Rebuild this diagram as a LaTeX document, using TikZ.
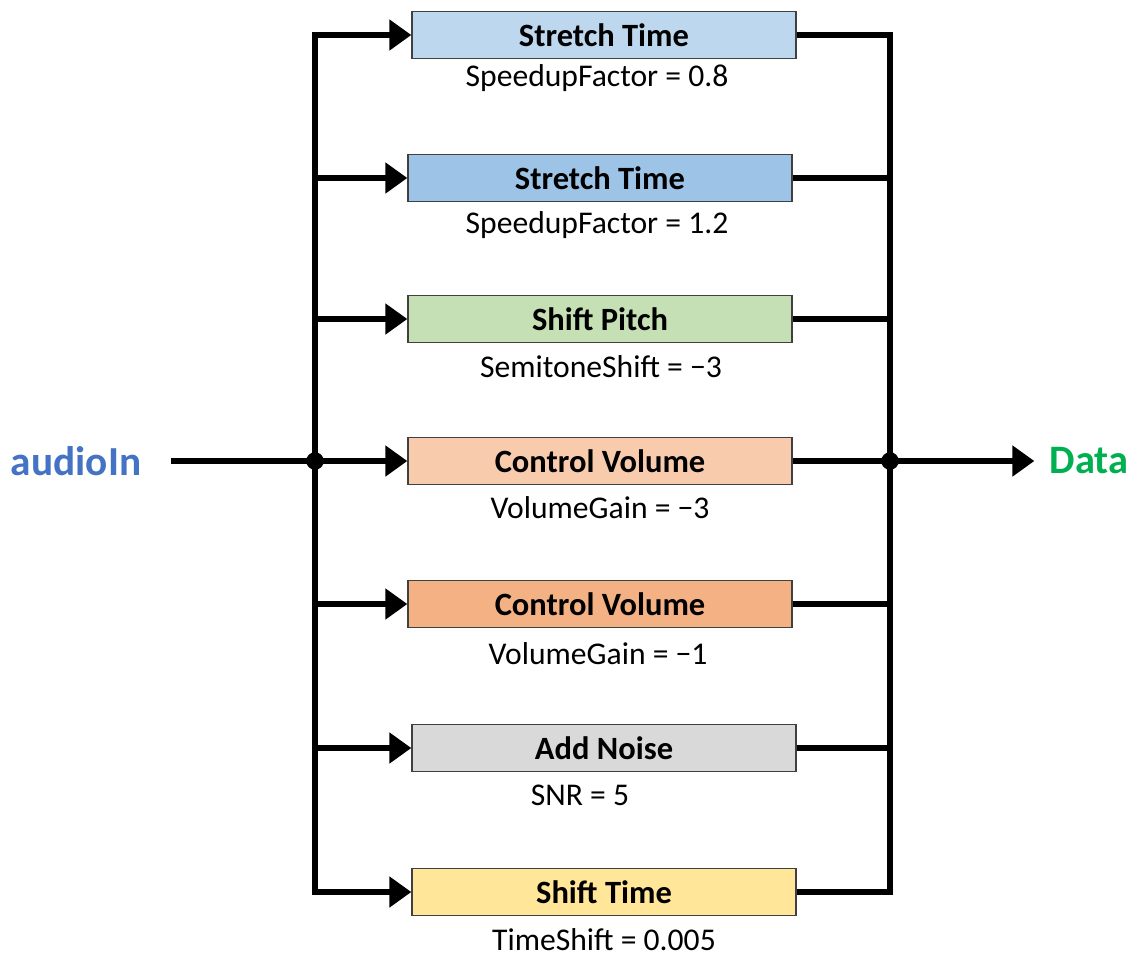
\documentclass[tikz,border=0pt]{standalone}
\usepackage{fontspec}
\setmainfont{Carlito}
\usetikzlibrary{positioning,arrows.meta}
\definecolor{stretchA}{HTML}{BDD7EE}
\definecolor{stretchB}{HTML}{9DC3E6}
\definecolor{pitchC}{HTML}{C5E0B4}
\definecolor{volumeA}{HTML}{F8CBAD}
\definecolor{volumeB}{HTML}{F4B183}
\definecolor{noiseC}{HTML}{D9D9D9}
\definecolor{shiftC}{HTML}{FFE699}
\definecolor{inBlue}{HTML}{4472C4}
\definecolor{outGreen}{HTML}{00B050}

\begin{document}
\begin{tikzpicture}[x=0.02cm, y=-0.02cm,
    box/.style={draw=black!75, line width=0.8pt, minimum width=7.68cm,
      minimum height=0.94cm, inner sep=0pt,
      font=\fontsize{18.5}{20}\selectfont\bfseries},
    param/.style={inner sep=0pt, font=\fontsize{18}{20}\selectfont},
    wire/.style={line width=3pt},
    flow/.style={wire, -{Triangle[length=12.5pt,width=17pt]}}]
  \useasboundingbox (0,0) rectangle (1135,958);
  % processing blocks
  \node[box, fill=stretchA] (st1) at (604,35)  {Stretch Time};
  \node[box, fill=stretchB] (st2) at (600,178) {Stretch Time};
  \node[box, fill=pitchC]   (sp)  at (600,319) {Shift Pitch};
  \node[box, fill=volumeA]  (cv1) at (600,461) {Control Volume};
  \node[box, fill=volumeB]  (cv2) at (600,604) {Control Volume};
  \node[box, fill=noiseC]   (an)  at (604,748) {Add Noise};
  \node[box, fill=shiftC]   (sh)  at (604,892) {Shift Time};
  % parameters
  \node[param] (p1) at (597,78)  {SpeedupFactor = 0.8};
  \node[param] (p2) at (597,225) {SpeedupFactor = 1.2};
  \node[param] (p3) at (601,367) {SemitoneShift = \textminus3};
  \node[param] (p4) at (600,508) {VolumeGain = \textminus3};
  \node[param] (p5) at (598,654) {VolumeGain = \textminus1};
  \node[param] (p6) at (580,795) {SNR = 5};
  \node[param] (p7) at (604,940) {TimeShift = 0.005};
  % input and output
  \node[inner xsep=0.6cm, inner ysep=0pt, text=inBlue,
    font=\fontsize{23.5}{25}\selectfont\bfseries] (ain) at (76,461) {audioIn};
  \node[inner xsep=0.3cm, inner ysep=0pt, text=outGreen,
    font=\fontsize{23}{25}\selectfont\bfseries] (data) at (1089,461) {Data};
  % bus lines
  \coordinate (lt) at (315,35);
  \coordinate (lb) at (315,892);
  \coordinate (rt) at (890,35);
  \coordinate (rb) at (890,892);
  \coordinate (lsplit) at (315,461);
  \coordinate (rsplit) at (890,461);
  \draw[wire, line cap=rect] (lt) -- (lb);
  \draw[wire, line cap=rect] (rt) -- (rb);
  \foreach \n in {st1,st2,sp,cv1,cv2,an,sh} {
    \draw[flow] (lt |- \n.west) -- (\n.west);
    \draw[wire] (\n.east) -- (rt |- \n.east);
  }
  \draw[wire] (ain) -- (lsplit);
  \draw[flow] (rsplit) -- (data);
  \fill (lsplit) circle[radius=5pt];
  \fill (rsplit) circle[radius=5pt];
\end{tikzpicture}
\end{document}
